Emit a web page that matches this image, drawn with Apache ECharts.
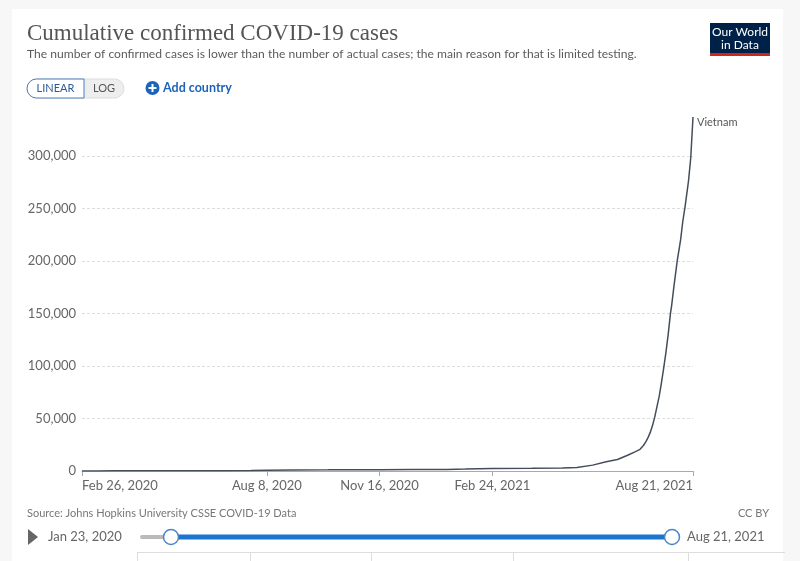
<!DOCTYPE html>
<html><head><meta charset="utf-8">
<script src="https://cdn.jsdelivr.net/npm/echarts@6/dist/echarts.min.js"></script>
<style>html,body{margin:0;padding:0;background:#f7f7f7;}#c{width:800px;height:561px;}</style>
</head><body><div id="c"></div>
<script>
const seriesName = 'Vietnam';
const dates = ['2020-02-26','2020-03-10','2020-03-25','2020-04-10','2020-04-30','2020-06-01','2020-07-01','2020-07-25','2020-08-08','2020-09-01','2020-10-01','2020-11-16','2020-12-15','2021-01-15','2021-01-31','2021-02-24','2021-03-31','2021-04-27','2021-05-10','2021-05-24','2021-06-05','2021-06-15','2021-06-24','2021-07-01','2021-07-05','2021-07-08','2021-07-10','2021-07-12','2021-07-14','2021-07-16','2021-07-18','2021-07-20','2021-07-22','2021-07-24','2021-07-26','2021-07-28','2021-07-30','2021-08-01','2021-08-02','2021-08-04','2021-08-07','2021-08-10','2021-08-12','2021-08-14','2021-08-17','2021-08-19','2021-08-21'];
const cases = [16,35,141,257,270,328,355,420,810,1044,1095,1288,1405,1537,1817,2421,2603,2857,3400,5600,8800,11000,15000,18500,20600,24300,27500,31500,36500,43000,51000,61000,71000,84000,98000,113000,130000,150000,157000,175000,200000,220000,238000,252000,276000,298000,337000];
const xTickDates = ['2020-02-26','2020-08-08','2020-11-16','2021-02-24','2021-08-21'];
const yTickValues = [0,50000,100000,150000,200000,250000,300000];
const timelineStart = 'Jan 23, 2020';
const timelineEnd = 'Aug 21, 2021';

const MONTHS = ['Jan','Feb','Mar','Apr','May','Jun','Jul','Aug','Sep','Oct','Nov','Dec'];
function ts(s){const p=s.split('-').map(Number);return Date.UTC(p[0],p[1]-1,p[2]);}
function fmtDate(v){const d=new Date(v);return MONTHS[d.getUTCMonth()]+' '+d.getUTCDate()+', '+d.getUTCFullYear();}
const xTicks = xTickDates.map(ts);
const seriesData = dates.map((d,i)=>[ts(d),cases[i]]);

const FONT='Lato';
const chart = echarts.init(document.getElementById('c'), null, {renderer:'canvas'});
const BLUE='#1b75cf';
chart.setOption({
  backgroundColor:'#f7f7f7',
  animation:false,
  grid:{left:82,right:107,top:117,bottom:90},
  xAxis:{
    type:'value',
    min:xTicks[0], max:xTicks[xTicks.length-1],
    axisLine:{show:true,lineStyle:{color:'#aaa',width:1}},
    axisTick:{show:true,customValues:xTicks,length:5,lineStyle:{color:'#aaa'}},
    axisLabel:{customValues:xTicks,formatter:fmtDate,color:'#666',fontSize:13,fontFamily:FONT,margin:8,alignMinLabel:'left',alignMaxLabel:'right',hideOverlap:false},
    splitLine:{show:false}
  },
  yAxis:{
    type:'value',
    min:0, max:'dataMax',
    axisLine:{show:false},
    axisTick:{show:false,customValues:yTickValues},
    axisLabel:{customValues:yTickValues,formatter:v=>v.toLocaleString('en-US'),color:'#666',fontSize:13,fontFamily:FONT,margin:6},
    splitLine:{show:true,lineStyle:{color:'#ddd',type:[3,2],width:1}}
  },
  series:[{
    name:seriesName,
    type:'line',
    data:seriesData,
    showSymbol:false,
    smooth:false,
    lineStyle:{color:'#454d5c',width:1.5},
    endLabel:{show:true,formatter:'{a}',color:'#555',fontSize:11,fontFamily:FONT,distance:4,offset:[0,5]},
    z:5
  }],
  graphic:[
    {type:'rect',z:-10,silent:true,shape:{x:12,y:9,width:771,height:600},style:{fill:'#fff'}},
    {type:'text',x:27,y:22,style:{text:'Cumulative confirmed COVID-19 cases',font:'23px "Liberation Serif"',fill:'#555'}},
    {type:'text',x:27,y:48,style:{text:'The number of confirmed cases is lower than the number of actual cases; the main reason for that is limited testing.',font:'12.1px Lato',fill:'#5b5b5b'}},
    {type:'rect',shape:{x:27,y:79,width:97,height:19,r:9.5},style:{fill:'#eee',stroke:'#ddd',lineWidth:1}},
    {type:'rect',shape:{x:27,y:79,width:57,height:19,r:[9.5,0,0,9.5]},style:{fill:'#fff',stroke:'#4a7cbf',lineWidth:1}},
    {type:'text',x:55.5,y:88.5,style:{text:'LINEAR',font:'11px Lato',fill:'#2b5c95',align:'center',verticalAlign:'middle'}},
    {type:'text',x:104,y:88.5,style:{text:'LOG',font:'11px Lato',fill:'#555',align:'center',verticalAlign:'middle'}},
    {type:'circle',shape:{cx:152.5,cy:88,r:7},style:{fill:'#1d63b9'}},
    {type:'line',shape:{x1:148.5,y1:88,x2:156.5,y2:88},style:{stroke:'#fff',lineWidth:2}},
    {type:'line',shape:{x1:152.5,y1:84,x2:152.5,y2:92},style:{stroke:'#fff',lineWidth:2}},
    {type:'text',x:163,y:88,style:{text:'Add country',font:'bold 12.5px Lato',fill:'#1d63b9',verticalAlign:'middle'}},
    {type:'rect',shape:{x:710,y:23,width:60,height:33},style:{fill:'#002147'}},
    {type:'rect',shape:{x:710,y:53,width:60,height:3},style:{fill:'#ce261e'}},
    {type:'text',x:740,y:32.5,style:{text:'Our World',font:'12px Lato',fill:'#fff',align:'center',verticalAlign:'middle'}},
    {type:'text',x:740,y:45,style:{text:'in Data',font:'12px Lato',fill:'#fff',align:'center',verticalAlign:'middle'}},
    {type:'text',x:27,y:513,style:{text:'Source: Johns Hopkins University CSSE COVID-19 Data',font:'11px Lato',fill:'#777',verticalAlign:'middle'}},
    {type:'text',x:769,y:513,style:{text:'CC BY',font:'11px Lato',fill:'#777',align:'right',verticalAlign:'middle'}},
    {type:'polygon',shape:{points:[[28,529],[28,545],[38,537]]},style:{fill:'#666'}},
    {type:'text',x:48,y:537,style:{text:timelineStart,font:'13px Lato',fill:'#666',verticalAlign:'middle'}},
    {type:'line',shape:{x1:142,y1:537,x2:171,y2:537},style:{stroke:'#bbb',lineWidth:4,lineCap:'round'}},
    {type:'line',shape:{x1:171,y1:537,x2:672,y2:537},style:{stroke:BLUE,lineWidth:5}},
    {type:'circle',shape:{cx:171,cy:537,r:7.5},style:{fill:'#fff',stroke:'#4a86c6',lineWidth:1.5}},
    {type:'circle',shape:{cx:672,cy:537,r:7.5},style:{fill:'#fff',stroke:'#4a86c6',lineWidth:1.5}},
    {type:'text',x:687,y:537,style:{text:timelineEnd,font:'13px Lato',fill:'#666',verticalAlign:'middle'}},
    {type:'line',shape:{x1:137,y1:552.5,x2:785,y2:552.5},style:{stroke:'#ddd',lineWidth:1}},
    {type:'line',shape:{x1:137.5,y1:552,x2:137.5,y2:561},style:{stroke:'#ddd',lineWidth:1}},
    {type:'line',shape:{x1:250.5,y1:552,x2:250.5,y2:561},style:{stroke:'#ddd',lineWidth:1}},
    {type:'line',shape:{x1:371.5,y1:552,x2:371.5,y2:561},style:{stroke:'#ddd',lineWidth:1}},
    {type:'line',shape:{x1:513.5,y1:552,x2:513.5,y2:561},style:{stroke:'#ddd',lineWidth:1}},
    {type:'line',shape:{x1:688.5,y1:552,x2:688.5,y2:561},style:{stroke:'#ddd',lineWidth:1}}
  ]
});
</script></body></html>
